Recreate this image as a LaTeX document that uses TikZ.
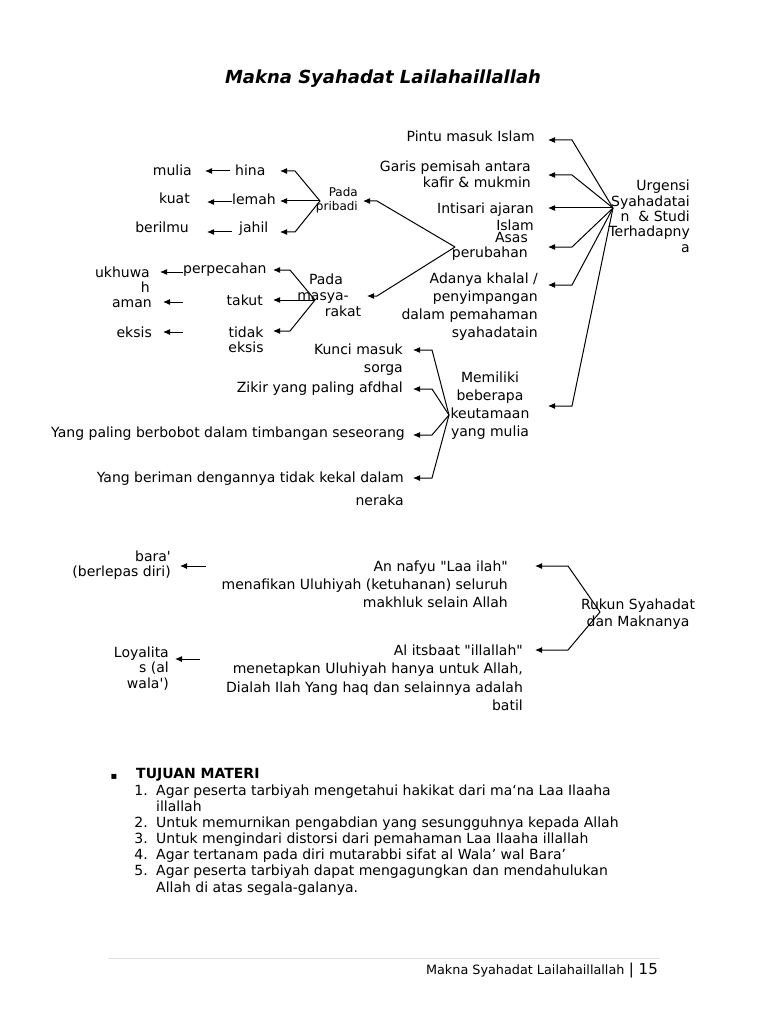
\documentclass[tikz,border=0pt]{standalone}
\usepackage{fontspec}
\setmainfont{DejaVu Sans}
\usetikzlibrary{arrows.meta}
\tikzset{
  txt/.style={inner sep=0pt, font=\fontsize{14}{16.5}\selectfont},
  rt/.style={txt, align=right, anchor=base east},
  lt/.style={txt, align=left, anchor=base west},
  ct/.style={txt, align=center, anchor=base},
  arr/.style={-{Latex[length=7pt,width=6pt]}, line width=1pt},
}
\begin{document}
\begin{tikzpicture}[x=1pt,y=-1pt]
\useasboundingbox[fill=white] (0,0) rectangle (768,1024);
% title (multi-line nodes are placed at the baseline of their last line)
\node[ct, font=\fontsize{18}{20}\selectfont\bfseries\itshape] (title) at (383,84) {Makna Syahadat Lailahaillallah};

% right cluster
\node[rt, font=\fontsize{14}{15.3}\selectfont] (urg) at (690,252) {Urgensi\\Syahadatai\\n\ \ \& Studi\\Terhadapny\\a};
\node[rt] (pintu) at (535,142) {Pintu masuk Islam};
\node[rt, font=\fontsize{14}{16}\selectfont] (garis) at (531,188) {Garis pemisah antara\\kafir \& mukmin};
\node[rt, font=\fontsize{14}{17}\selectfont] (intis) at (534,230) {Intisari ajaran\\Islam};
\node[rt, font=\fontsize{14}{16}\selectfont] (asas) at (528,258) {Asas\\perubahan};
\node[rt, font=\fontsize{14}{18}\selectfont] (adanya) at (538,337) {Adanya khalal /\\penyimpangan\\dalam pemahaman\\syahadatain};
\node[ct, font=\fontsize{14}{18}\selectfont] (memil) at (490,436) {Memiliki\\beberapa\\keutamaan\\yang mulia};

\coordinate (U) at (613,208);
\draw[arr] (U) -- (572,140) -- (548,140);
\draw[arr] (U) -- (572,175) -- (548,175);
\draw[arr] (U) -- (548,208);
\draw[arr] (U) -- (572,247) -- (548,247);
\draw[arr] (U) -- (572,285) -- (548,285);
\draw[arr] (U) -- (572,406) -- (548,406);

% pada pribadi / masyarakat
\node[rt, font=\fontsize{12}{14}\selectfont] (prib) at (358,211) {Pada\\pribadi};
\node[ct] (pmA) at (326,284) {Pada};
\node[ct] (pmB) at (323,300) {masya-};
\node[ct] (pmC) at (343,316) {rakat};

\coordinate (A) at (455,247);
\draw[arr] (A) -- (377,201) -- (363,201);
\draw[arr] (A) -- (377,296) -- (367,296);

\coordinate (P) at (320,201);
\draw[arr] (P) -- (295,171) -- (280,171);
\draw[arr] (P) -- (280,201);
\draw[arr] (P) -- (295,232) -- (280,232);

\coordinate (M) at (315,300);
\draw[arr] (M) -- (290,270) -- (273,270);
\draw[arr] (M) -- (273,300);
\draw[arr] (M) -- (290,331) -- (273,331);

\node[lt] (hina) at (235,176) {hina};
\node[lt] (lemah) at (232,205) {lemah};
\node[lt] (jahil) at (239,233) {jahil};
\node[rt] (mulia) at (192,176) {mulia};
\node[rt] (kuat) at (190,204) {kuat};
\node[rt] (beril) at (189,233) {berilmu};
\draw[arr] (230,171) -- (205,171);
\draw[arr] (232,202) -- (207,202);
\draw[arr] (232,232) -- (207,232);

\node[lt] (perp) at (183,273) {perpecahan};
\node[rt] (takut) at (263,305) {takut};
\node[ct, font=\fontsize{14}{15}\selectfont] (tidak) at (246,352) {tidak\\eksis};
\node[rt, font=\fontsize{14}{15}\selectfont] (ukh) at (150,292) {ukhuwa\\h};
\node[rt] (aman) at (152,307) {aman};
\node[rt] (eksis) at (152,337) {eksis};
\draw[arr] (183,272) -- (160,272);
\draw[arr] (183,302) -- (163,302);
\draw[arr] (183,332) -- (163,332);

% keutamaan
\coordinate (K) at (449,415);
\node[rt, font=\fontsize{14}{18}\selectfont] (kunci) at (403,372) {Kunci masuk\\sorga};
\node[rt] (zikir) at (403,392) {Zikir yang paling afdhal};
\node[rt] (paling) at (405,437) {Yang paling berbobot dalam timbangan seseorang};
\node[rt] (berim) at (404,505) {Yang beriman dengannya tidak kekal dalam\\[6.5pt]neraka};
\draw[arr] (K) -- (432,350) -- (413,350);
\draw[arr] (K) -- (432,389) -- (413,389);
\draw[arr] (K) -- (432,435) -- (413,435);
\draw[arr] (K) -- (432,478) -- (413,478);

% rukun
\node[rt, font=\fontsize{14}{18}\selectfont] (nafyu) at (508,607) {An nafyu \textquotedbl Laa ilah\textquotedbl\\menafikan Uluhiyah (ketuhanan) seluruh\\makhluk selain Allah};
\node[rt, font=\fontsize{14}{18.5}\selectfont] (itsb) at (523,710.5) {Al itsbaat \textquotedbl illallah\textquotedbl\\menetapkan Uluhiyah hanya untuk Allah,\\Dialah Ilah Yang haq dan selainnya adalah\\batil};
\node[ct, font=\fontsize{14}{17}\selectfont] (rukun) at (638,626) {Rukun Syahadat\\dan Maknanya};
\node[rt, font=\fontsize{14}{15}\selectfont] (bara) at (171,576) {bara\textquotesingle\\(berlepas diri)};
\node[rt, font=\fontsize{14}{15.5}\selectfont] (loyal) at (169,688) {Loyalita\\s (al\\wala\textquotesingle)};
\coordinate (R) at (600,612);
\draw[arr] (R) -- (568,566) -- (535,566);
\draw[arr] (R) -- (568,650) -- (535,650);
\draw[arr] (206,566) -- (180,566);
\draw[arr] (200,659) -- (175,659);

% list
\node[ct, font=\fontsize{10}{12}\selectfont] (bul) at (114,779) {▪};
\node[lt, font=\fontsize{14}{16}\selectfont\bfseries] (tuj) at (136,778) {TUJUAN MATERI};
\node[rt] (n1) at (148,795) {1.};
\node[lt, font=\fontsize{14}{16}\selectfont] (i1) at (156,811) {Agar peserta tarbiyah mengetahui hakikat dari ma‘na Laa Ilaaha\\illallah};
\node[rt] (n2) at (148,827) {2.};
\node[lt] (i2) at (156,827) {Untuk memurnikan pengabdian yang sesungguhnya kepada Allah};
\node[rt] (n3) at (148,843) {3.};
\node[lt] (i3) at (156,843) {Untuk mengindari distorsi dari pemahaman Laa Ilaaha illallah};
\node[rt] (n4) at (148,859) {4.};
\node[lt] (i4) at (156,859) {Agar tertanam pada diri mutarabbi sifat al Wala’ wal Bara’};
\node[rt] (n5) at (148,875) {5.};
\node[lt, font=\fontsize{14}{17}\selectfont] (i5) at (156,892) {Agar peserta tarbiyah dapat mengagungkan dan mendahulukan\\Allah di atas segala-galanya.};

% footer
\draw[gray!25, line width=0.6pt] (108,958) -- (660,958);
\node[rt] (foot) at (658,974) {{\fontsize{12.8}{15}\selectfont Makna Syahadat Lailahaillallah} {\fontsize{15}{17}\selectfont | 15}};
\end{tikzpicture}
\end{document}
